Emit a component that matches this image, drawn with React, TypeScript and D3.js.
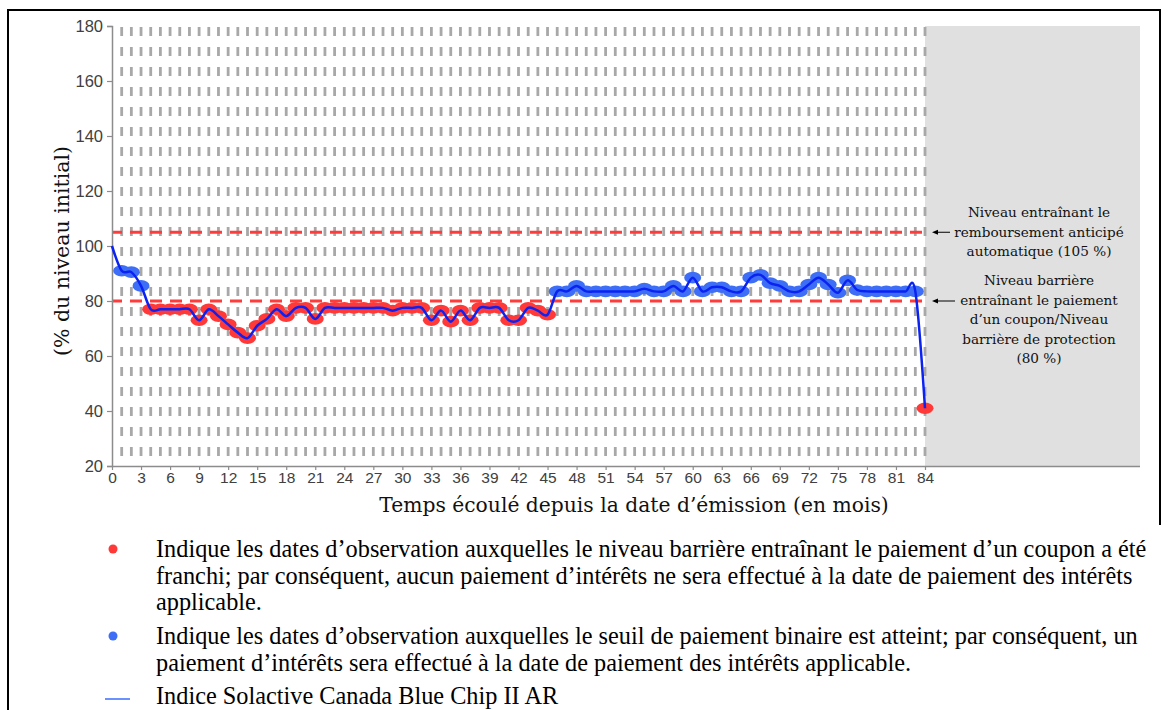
import React, { useEffect, useRef } from "react";
import * as d3 from "d3";

// Monthly index level, % of initial level, months 0..84
const levels = [
  100, 91, 90.5, 85.5, 77, 77, 77, 77, 77, 73,
  77, 74.5, 71.5, 68.5, 66.5, 71, 73.5, 77, 74.5, 77.5,
  77.5, 73.5, 77.5, 77.5, 77.5, 77.5, 77.5, 77.5, 77.5, 76.5,
  77.5, 77.5, 77.5, 73, 76.5, 72.5, 76.5, 73, 77.5, 77.5,
  77.5, 73, 73, 77.5, 76.5, 75, 83.5, 83.5, 85.5, 83.5,
  83.5, 83.5, 83.5, 83.5, 83.5, 84.5, 83.5, 83.5, 85.5, 83.5,
  88.5, 83.5, 85, 85, 83.5, 83.5, 88.5, 89.5, 86.5, 85.5,
  83.5, 83.5, 86, 88.5, 86, 83, 87.5, 84, 83.5, 83.5,
  83.5, 83.5, 83.5, 83.5, 41,
];

const autocallLevel = 105;
const barrierLevel = 80;

const xTicks = [0, 3, 6, 9, 12, 15, 18, 21, 24, 27, 30, 33, 36, 39, 42, 45, 48, 51, 54, 57, 60, 63, 66, 69, 72, 75, 78, 81, 84];
const yTicks = [20, 40, 60, 80, 100, 120, 140, 160, 180];

const autocallNote = ["Niveau entraînant le", "remboursement anticipé", "automatique (105 %)"];
const barrierNote = ["Niveau barrière", "entraînant le paiement", "d’un coupon/Niveau", "barrière de protection", "(80 %)"];

const legendRed = [
  "Indique les dates d’observation auxquelles le niveau barrière entraînant le paiement d’un coupon a été",
  "franchi; par conséquent, aucun paiement d’intérêts ne sera effectué à la date de paiement des intérêts",
  "applicable.",
];
const legendBlue = [
  "Indique les dates d’observation auxquelles le seuil de paiement binaire est atteint; par conséquent, un",
  "paiement d’intérêts sera effectué à la date de paiement des intérêts applicable.",
];
const legendLine = "Indice Solactive Canada Blue Chip II AR";

const W = 1169;
const H = 710;
const RED = "#ff3838";
const BLUE = "#3d6ef5";
const SERIF = "'DejaVu Serif', serif";
const TIMES = "'Liberation Serif', 'Times New Roman', serif";
const SANS = "'Liberation Sans', Arial, sans-serif";

export default function App() {
  const svgRef = useRef<SVGSVGElement>(null);

  useEffect(() => {
    if (!svgRef.current) return;
    const svg = d3.select(svgRef.current);
    svg.selectAll("*").remove();

    const x = d3.scaleLinear().domain([0, 84]).range([112, 925]);
    const y = d3.scaleLinear().domain([20, 180]).range([466, 26]);
    const plotRight = 1140;

    // frame
    svg.append("path")
      .attr("d", `M8,710 V10 H1160 V525`)
      .attr("fill", "none")
      .attr("stroke", "#000")
      .attr("stroke-width", 2);

    // shaded area after maturity
    svg.append("rect")
      .attr("x", x(84)).attr("y", y(180))
      .attr("width", plotRight - x(84)).attr("height", y(20) - y(180))
      .attr("fill", "#e0e0e0");

    // monthly dashed grid
    svg.append("g").selectAll("line")
      .data(levels.map((_, i) => i).filter((i) => i > 0))
      .enter().append("line")
      .attr("x1", (d) => x(d)).attr("x2", (d) => x(d))
      .attr("y1", y(180)).attr("y2", y(20))
      .attr("stroke", "#a8a8a8")
      .attr("stroke-width", 2.8)
      .attr("stroke-dasharray", "9,11")
      .attr("stroke-dashoffset", -1);

    // barrier lines
    svg.append("g").selectAll("line")
      .data([autocallLevel, barrierLevel])
      .enter().append("line")
      .attr("x1", x(0)).attr("x2", x(84))
      .attr("y1", (d) => y(d)).attr("y2", (d) => y(d))
      .attr("stroke", "#ff3c3c")
      .attr("stroke-width", 3)
      .attr("stroke-dasharray", "12,8")
      .attr("stroke-dashoffset", 2);

    // axes
    const yAxis = svg.append("g")
      .attr("transform", `translate(${x(0)},0)`)
      .call(d3.axisLeft(y).tickValues(yTicks).tickSize(5).tickPadding(4));
    const xAxis = svg.append("g")
      .attr("transform", `translate(0,${y(20)})`)
      .call(d3.axisBottom(x).tickValues(xTicks).tickSize(4).tickPadding(2));
    xAxis.select(".domain").attr("d", `M${x(0)},0.5H${plotRight}`);
    [yAxis, xAxis].forEach((a) => {
      a.select(".domain").attr("stroke", "#8c8c8c").attr("stroke-width", 1.5);
      a.selectAll(".tick line").attr("stroke", "#8c8c8c").attr("stroke-width", 1.2);
      a.selectAll("text")
        .attr("fill", "#404040")
        .attr("font-family", SANS);
    });
    yAxis.selectAll("text").attr("font-size", 16.5);
    xAxis.selectAll("text").attr("font-size", 15.5);

    // markers
    svg.append("g").selectAll("ellipse")
      .data(levels.map((v, i) => ({ m: i, v })).filter((d) => d.m > 0))
      .enter().append("ellipse")
      .attr("cx", (d) => x(d.m))
      .attr("cy", (d) => y(d.v))
      .attr("rx", 8.5)
      .attr("ry", 5.8)
      .attr("fill", (d) => (d.v < barrierLevel ? RED : BLUE));

    // index line
    const line = d3.line<number>()
      .x((_, i) => x(i))
      .y((d) => y(d))
      .curve(d3.curveCardinal.tension(0));
    svg.append("path")
      .datum(levels)
      .attr("d", line)
      .attr("fill", "none")
      .attr("stroke", "#0a22f2")
      .attr("stroke-width", 2.5);

    // axis titles
    svg.append("text")
      .attr("transform", `translate(69,251) rotate(-90)`)
      .attr("text-anchor", "middle")
      .attr("font-family", SERIF)
      .attr("font-size", 20.5)
      .attr("fill", "#111")
      .text("(% du niveau initial)");
    svg.append("text")
      .attr("x", 634).attr("y", 512)
      .attr("text-anchor", "middle")
      .attr("font-family", SERIF)
      .attr("font-size", 20.3)
      .attr("fill", "#111")
      .text("Temps écoulé depuis la date d’émission (en mois)");

    // right-hand notes with arrows
    const noteX = 1039;
    const drawNote = (lines: string[], top: number) => {
      svg.append("g").selectAll("text")
        .data(lines)
        .enter().append("text")
        .attr("x", noteX)
        .attr("y", (_, i) => top + i * 19.5)
        .attr("text-anchor", "middle")
        .attr("font-family", SERIF)
        .attr("font-size", 13.6)
        .attr("fill", "#111")
        .text((d) => d);
    };
    drawNote(autocallNote, 217);
    drawNote(barrierNote, 285);
    [[autocallLevel, 950], [barrierLevel, 955]].forEach(([lvl, end]) => {
      const yy = y(lvl);
      svg.append("line")
        .attr("x1", 935).attr("x2", end)
        .attr("y1", yy).attr("y2", yy)
        .attr("stroke", "#000").attr("stroke-width", 1);
      svg.append("path")
        .attr("d", `M932,${yy} l6,-2.5 v5 z`)
        .attr("fill", "#000");
    });

    // legend
    const lg = svg.append("g").attr("font-family", TIMES).attr("font-size", 24.3).attr("fill", "#000");
    lg.append("circle").attr("cx", 113).attr("cy", 549).attr("r", 4.5).attr("fill", RED);
    lg.selectAll(".lr").data(legendRed).enter().append("text")
      .attr("x", 156).attr("y", (_, i) => 557 + i * 26.5).text((d) => d);
    lg.append("circle").attr("cx", 113).attr("cy", 636).attr("r", 4.5).attr("fill", BLUE);
    lg.selectAll(".lb").data(legendBlue).enter().append("text")
      .attr("x", 156).attr("y", (_, i) => 644 + i * 26.5).text((d) => d);
    lg.append("line")
      .attr("x1", 105).attr("x2", 130).attr("y1", 699).attr("y2", 699)
      .attr("stroke", "#3a6cff").attr("stroke-width", 1.5);
    lg.append("text").attr("x", 156).attr("y", 704).text(legendLine);
  }, []);

  return (
    <svg
      ref={svgRef}
      width={W}
      height={H}
      style={{ position: "absolute", left: 0, top: 0, background: "#fff" }}
    />
  );
}
